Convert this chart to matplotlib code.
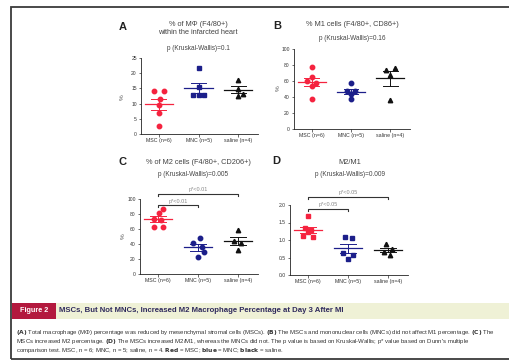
import matplotlib
matplotlib.use("Agg")
import matplotlib.pyplot as plt
from matplotlib.patches import Rectangle
import numpy as np

plt.rcParams['font.family'] = ['Liberation Sans', 'DejaVu Sans']

W, H = 510, 363

categories = ["MSC (n=6)", "MNC (n=5)", "saline (n=4)"]

# Panel A: % of macrophages
a_msc = [14.2, 14.2, 11.5, 9.5, 7.0, 2.6]
a_mnc = [21.8, 15.6, 12.8, 12.8, 12.8]
a_sal = [17.8, 14.8, 13.0, 12.5]
# Panel B: % M1
b_msc = [78, 65, 60, 58, 54, 37]
b_mnc = [57, 48, 47, 44, 38]
b_sal = [76, 74, 68, 36]
# Panel C: % M2
c_msc = [87, 81, 73, 72, 63, 63]
c_mnc = [48, 41, 36, 29, 23]
c_sal = [59, 44, 42, 32]
# Panel D: M2/M1
d_msc = [1.68, 1.33, 1.28, 1.22, 1.12, 1.10]
d_mnc = [1.10, 1.05, 0.62, 0.58, 0.47]
d_sal = [0.88, 0.75, 0.65, 0.57]

a_ticks = [0, 5, 10, 15, 20, 25]
b_ticks = [0, 20, 40, 60, 80, 100]
c_ticks = [0, 20, 40, 60, 80, 100]
d_ticks = [0.0, 0.5, 1.0, 1.5, 2.0]
d_ticklabels = ["0.0", "0.5", "1.0", "1.5", "2.0"]

# horizontal scatter offsets (jitter) per group
a_jit = [[-0.12, 0.12, 0.02, 0.0, 0.0, 0.0], [0.0, 0.02, -0.15, 0.0, 0.15], [0.0, 0.0, 0.13, 0.0]]
b_jit = [[0.0, 0.0, -0.12, 0.12, 0.0, 0.0], [0.0, -0.1, 0.1, 0.0, 0.0], [0.12, -0.12, 0.0, 0.0]]
c_jit = [[0.12, 0.02, -0.1, 0.08, -0.1, 0.12], [0.05, -0.12, 0.1, 0.15, 0.0], [0.0, -0.1, 0.08, 0.0]]
d_jit = [[0.0, -0.08, 0.08, 0.0, -0.12, 0.12], [-0.08, 0.1, -0.12, 0.12, 0.0], [-0.05, 0.1, -0.1, 0.05]]

RED = "#f5233f"
BLUE = "#1c1f8a"
BLACK = "#111111"
colors = [RED, BLUE, BLACK]

fig = plt.figure(figsize=(W / 100, H / 100), dpi=100)
fig.patch.set_facecolor("white")


def fax(l, t, r, b):
    return fig.add_axes([l / W, 1 - b / H, (r - l) / W, (b - t) / H])


def draw_panel(ax, groups, jits, markers, ticks, ylim, ticklabels=None):
    for i, (vals, jit, m) in enumerate(zip(groups, jits, markers)):
        vals = np.asarray(vals, float)
        xs = i + np.asarray(jit)
        ax.plot(xs, vals, linestyle="none", marker=m, ms=3.2,
                color=colors[i], mec=colors[i], clip_on=False, zorder=3)
        mean = vals.mean()
        sem = vals.std(ddof=1) / np.sqrt(len(vals))
        ax.plot([i - 0.36, i + 0.36], [mean, mean], color=colors[i], lw=0.9, zorder=4)
        ax.plot([i, i], [mean - sem, mean + sem], color=colors[i], lw=0.7, zorder=4)
        for yy in (mean - sem, mean + sem):
            ax.plot([i - 0.19, i + 0.19], [yy, yy], color=colors[i], lw=0.7, zorder=4)
    ax.set_xlim(-0.45, 2.5)
    ax.set_ylim(*ylim)
    ax.set_xticks(range(3))
    ax.set_xticklabels(categories, fontsize=3.8, color="#333333")
    ax.set_yticks(ticks)
    if ticklabels is not None:
        ax.set_yticklabels(ticklabels)
    ax.tick_params(axis="both", labelsize=3.6, length=1.8, width=0.5, pad=1.2,
                   colors="#333333")
    ax.tick_params(axis="x", labelsize=3.8)
    for s in ("top", "right"):
        ax.spines[s].set_visible(False)
    for s in ("left", "bottom"):
        ax.spines[s].set_linewidth(0.6)
        ax.spines[s].set_color("#222222")
    ax.patch.set_alpha(0)


def bracket(ax, x0, x1, y, d, label):
    ax.plot([x0, x0, x1, x1], [y - d, y, y, y - d], color="#333333", lw=0.8,
            clip_on=False, zorder=5)
    ax.text((x0 + x1) / 2, y + d * 0.6, label, ha="center", va="bottom",
            fontsize=4.0, color="#888888", clip_on=False)


axA = fax(141, 58, 258, 134)
draw_panel(axA, [a_msc, a_mnc, a_sal], a_jit, ["o", "s", "^"], a_ticks, (0, 25))
axB = fax(294, 49, 410, 129)
draw_panel(axB, [b_msc, b_mnc, b_sal], b_jit, ["o", "o", "^"], b_ticks, (0, 100))
axC = fax(140, 199, 258, 274)
draw_panel(axC, [c_msc, c_mnc, c_sal], c_jit, ["o", "o", "^"], c_ticks, (0, 100))
axD = fax(290, 205, 408, 275)
draw_panel(axD, [d_msc, d_mnc, d_sal], d_jit, ["s", "s", "^"], d_ticks, (0, 2.0), d_ticklabels)

bracket(axC, 0, 2, 107, 3, "p*<0.01")
bracket(axC, 0, 1, 92, 3, "p*<0.01")
bracket(axD, 0, 2, 2.24, 0.07, "p*<0.05")
bracket(axD, 0, 1, 1.89, 0.07, "p*<0.05")


def ftext(x, y, s, **kw):
    fig.text(x / W, 1 - y / H, s, **kw)


TC = "#444444"
# panel letters
for (x, y, s) in [(123, 27, "A"), (277, 26, "B"), (123, 162, "C"), (276, 161, "D")]:
    ftext(x, y, s, fontsize=8, fontweight="bold", ha="center", va="center", color="#222222")

# titles
TS, PS = 5.3, 4.7
ftext(198, 24, "% of M\u03a6 (F4/80+)", fontsize=TS, ha="center", va="center", color=TC)
ftext(198, 33, "within the infarcted heart", fontsize=TS, ha="center", va="center", color=TC)
ftext(198, 48, "p (Kruskal-Wallis)=0.1", fontsize=PS, ha="center", va="center", color=TC)
ftext(352, 25, "% M1 cells (F4/80+, CD86+)", fontsize=TS, ha="center", va="center", color=TC)
ftext(352, 38, "p (Kruskal-Wallis)=0.16", fontsize=PS, ha="center", va="center", color=TC)
ftext(198, 162.5, "% of M2 cells (F4/80+, CD206+)", fontsize=TS, ha="center", va="center", color=TC)
ftext(193, 174.5, "p (Kruskal-Wallis)=0.005", fontsize=PS, ha="center", va="center", color=TC)
ftext(350, 162, "M2/M1", fontsize=TS, ha="center", va="center", color=TC)
ftext(350, 175, "p (Kruskal-Wallis)=0.009", fontsize=PS, ha="center", va="center", color=TC)

# y-axis labels
for (x, y) in [(122, 97), (278, 88), (123, 236)]:
    ftext(x, y, "%", fontsize=4.6, rotation=90, ha="center", va="center", color="#555555")

# outer frame
fig.patches.append(Rectangle((11 / W, 1 - 359 / H), 520 / W, 352 / H,
                             transform=fig.transFigure, fill=False,
                             edgecolor="#3a3a3a", lw=1.3))

# caption bar
fig.patches.append(Rectangle((56 / W, 1 - 319 / H), (W - 56) / W, 16 / H,
                             transform=fig.transFigure, facecolor="#eff1d6",
                             edgecolor="none"))
fig.patches.append(Rectangle((12 / W, 1 - 319 / H), 44 / W, 16 / H,
                             transform=fig.transFigure, facecolor="#b3193e",
                             edgecolor="none"))
ftext(34, 311, "Figure 2", fontsize=5.2, fontweight="bold", ha="center", va="center", color="white")
ftext(59, 311, "MSCs, But Not MNCs, Increased M2 Macrophage Percentage at Day 3 After MI",
      fontsize=5.6, fontweight="bold", ha="left", va="center", color="#2f2a5c")

cap_lines = [
    "$\\bf{(A)}$ Total macrophage (M\u03a6) percentage was reduced by mesenchymal stromal cells (MSCs). "
    "$\\bf{(B)}$ The MSCs and mononuclear cells (MNCs) did not affect M1 percentage. $\\bf{(C)}$ The",
    "MSCs increased M2 percentage. $\\bf{(D)}$ The MSCs increased M2/M1, whereas the MNCs did not. "
    "The p value is based on Kruskal-Wallis; p* value based on Dunn's multiple",
    "comparison test. MSC, n = 6; MNC, n = 5; saline, n = 4. $\\bf{Red}$ = MSC; $\\bf{blue}$ = MNC; "
    "$\\bf{black}$ = saline.",
]
for i, line in enumerate(cap_lines):
    ftext(16, 332.3 + i * 9.2, line, fontsize=4.3, ha="left", va="center", color="#333333")

fig.savefig("out.png", dpi=100, facecolor="white")
